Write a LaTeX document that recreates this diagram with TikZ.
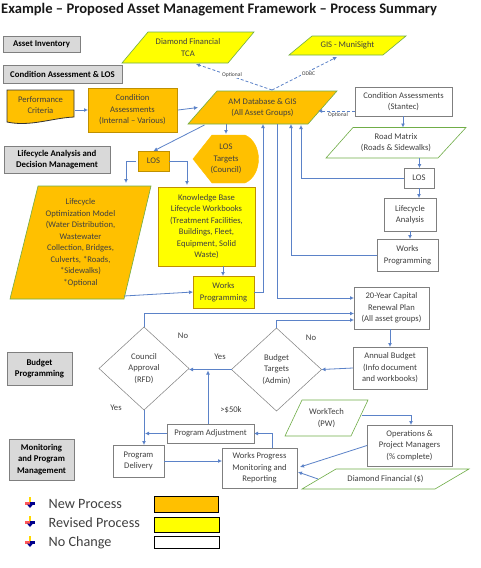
\documentclass[tikz,border=0pt]{standalone}
\usepackage{fontspec}
\setmainfont{Carlito}
\usetikzlibrary{arrows.meta,calc}
\definecolor{orng}{HTML}{FFC000}
\definecolor{yelo}{HTML}{FFFF00}
\definecolor{gold}{HTML}{BF9000}
\definecolor{grn}{HTML}{70AD47}
\definecolor{lnk}{HTML}{5B82C8}
\definecolor{edge}{HTML}{7F7F7F}
\definecolor{txt}{HTML}{404040}
\tikzset{
  lbl/.style={inner sep=0pt,outer sep=0pt,align=center,font=\fontsize{8.6}{11.5}\selectfont,text=txt},
  newbox/.style={lbl,draw=gold,fill=orng,line width=.7pt},
  revbox/.style={lbl,draw=gold,fill=yelo,line width=.7pt},
  plainbox/.style={lbl,draw=edge,fill=white,line width=.7pt},
  headbox/.style={lbl,draw=edge,fill=black!15,line width=.9pt,text=black,font=\bfseries\fontsize{8.8}{11.5}\selectfont},
  newpar/.style={draw=grn,fill=orng,line width=.6pt},
  revpar/.style={draw=grn,fill=yelo,line width=.6pt},
  plainpar/.style={draw=grn,fill=white,line width=.6pt},
  diam/.style={draw=edge,fill=white,line width=.5pt},
  conn/.style={draw=lnk,line width=.8pt,-{Latex[length=4pt,width=4pt]}},
  plainconn/.style={draw=lnk,line width=.8pt},
  dashconn/.style={conn,dashed,dash pattern=on 3pt off 2pt},
  tiny/.style={inner sep=1pt,font=\fontsize{5.6}{6}\selectfont,text=txt,fill=white},
  note/.style={inner sep=0pt,font=\fontsize{8.6}{10}\selectfont,text=txt},
  swatch/.style={draw=black,line width=.8pt},
  legend/.style={inner sep=0pt,anchor=west,font=\fontsize{14.2}{16}\selectfont,text=txt},
}
% name, x1, y1, x2, y2, style, text
\newcommand{\bx}[7]{\node[#6,minimum width={(#4-#2)*1pt},minimum height={(#5-#3)*1pt}] (#1) at ({(#2+#4)/2},{(#3+#5)/2}) {#7};}
% name, top-left x, top-right x, top y, bottom-right x, bottom-left x, bottom y, style, text
\newcommand{\para}[9]{\draw[#8] (#2,#4) -- (#3,#4) -- (#5,#7) -- (#6,#7) -- cycle;
  \node[lbl,minimum width={(#3-#6)*1pt},minimum height={(#7-#4)*1pt}] (#1) at ({(#6+#3)/2},{(#4+#7)/2}) {#9};}
% name, cx, cy, half-w, half-h, text
\newcommand{\dmd}[6]{\draw[diam] (#2,{#3-#5}) -- ({#2+#4},#3) -- (#2,{#3+#5}) -- ({#2-#4},#3) -- cycle;
  \node[lbl,minimum width={2*#4*1pt},minimum height={2*#5*1pt}] (#1) at (#2,#3) {#6};}
\newcommand{\bullt}[1]{\begin{scope}[shift={(30,#1)}]
  \fill[red!65!white] (-5,-1) rectangle (0,1.5);
  \fill[yelo!70!orange] (-1.2,-6) rectangle (1.2,-1);
  \fill[blue!55!black] (0,-1) rectangle (5,1.5);
  \fill[blue!55!black] (-3,1.5) -- (3,1.5) -- (0,5) -- cycle;
\end{scope}}
\begin{document}
\begin{tikzpicture}[x=1pt,y=-1pt]
\useasboundingbox (0,0) rectangle (481,568);
\fill[white] (0,0) rectangle (481,568);
\node[inner sep=0pt,anchor=west,font=\bfseries\fontsize{14.6}{16}\selectfont,text=black!90] (title) at (1,9.5) {Example – Proposed Asset Management Framework – Process Summary};

% headings
\bx{h1}{3}{36}{80}{52}{headbox}{Asset Inventory}
\bx{h2}{3}{65}{122}{83}{headbox}{Condition Assessment \& LOS}
\bx{h3}{4}{146}{110}{173}{headbox}{Lifecycle Analysis and\\Decision Management}
\bx{h4}{7}{352}{72}{385}{headbox}{Budget\\Programming}
\bx{h5}{9}{439}{74}{480}{headbox}{Monitoring\\and Program\\Management}

% top
\para{tca}{148}{254}{32}{228}{122}{63}{revpar}{Diamond Financial\\TCA}
\para{gis}{312}{406}{36}{383}{289}{55}{revpar}{GIS - MuniSight}

% performance criteria (document shape)
\draw[fill=orng,draw=black!80,line width=.8pt] (7,90) -- (74,90) -- (74,117) .. controls (52,118) and (30,127) .. (7,122) -- cycle;
\node[lbl,minimum width=67pt,minimum height=30pt] (perf) at (40.5,105) {Performance\\Criteria};
\bx{cond}{88}{88}{177}{132}{newbox}{Condition\\Assessments\\(Internal – Various)}
\para{am}{217}{337}{91}{308}{188}{124}{newpar}{AM Database \& GIS\\(All Asset Groups)}
\bx{los}{138}{151}{169}{171}{newbox}{LOS}
\draw[fill=orng,draw=orng] (193,159) -- (212,135) -- (245,135) .. controls (263,143) and (263,175) .. (245,183) -- (212,183) -- cycle;
\node[lbl,minimum width=66pt,minimum height=48pt] (tgt) at (226,159) {LOS\\Targets\\(Council)};
\para{lom}{38}{151}{186}{124}{10}{299}{newpar}{Lifecycle\\Optimization Model\\(Water Distribution,\\Wastewater\\Collection, Bridges,\\Culverts, *Roads,\\*Sidewalks)\\*Optional}
\bx{kb}{158}{187}{255}{266}{revbox}{Knowledge Base\\Lifecycle Workbooks\\(Treatment Facilities,\\Buildings, Fleet,\\Equipment, Solid\\Waste)}
\bx{wpy}{193}{276}{254}{308}{revbox}{Works\\Programming}

% right column
\bx{stn}{355}{87}{452}{116}{plainbox}{Condition Assessments\\(Stantec)}
\para{road}{353}{466}{127.5}{438}{326}{158}{plainpar}{Road Matrix\\(Roads \& Sidewalks)}
\bx{losr}{404}{168}{434}{188}{plainbox}{LOS}
\bx{la}{384}{198}{436}{231}{plainbox}{Lifecycle\\Analysis}
\bx{wpr}{377}{239}{438}{271}{plainbox}{Works\\Programming}
\bx{plan}{354}{287}{429}{329}{plainbox}{20-Year Capital\\Renewal Plan\\(All asset groups)}
\bx{ab}{353}{347}{427}{389}{plainbox}{Annual Budget\\(Info document\\and workbooks)}

% decisions
\dmd{bt}{276.5}{369.5}{45}{41.5}{Budget\\Targets\\(Admin)}
\dmd{ca}{144}{368.5}{45}{41.5}{Council\\Approval\\(RFD)}

% lower
\bx{pa}{167}{424}{254}{443}{plainbox}{Program Adjustment}
\bx{pd}{113}{445}{164}{477}{plainbox}{Program\\Delivery}
\bx{wm}{222}{448}{297}{488}{plainbox}{Works Progress\\Monitoring and\\Reporting}
\para{wt}{302}{368}{400}{351}{285}{436}{plainpar}{WorkTech\\(PW)}
\bx{ops}{367}{425}{452}{466}{plainbox}{Operations \&\\Project Managers\\(\% complete)}
\para{df}{336}{469}{469}{435}{302}{489}{plainpar}{Diamond Financial (\$)}

% connectors
\draw[conn] (perf.east |- cond.west) ++(1,0) -- (cond.west);
\draw[conn] (cond.east) ++(1,0) -- ($(am.west)+(10,0)$);
\draw[conn] ($(am.south)+(-58,1)$) -- (los.north);
\draw[conn] ($(am.south)+(-36.5,0)$) -- ($(tgt.north)+(0,-1)$);
\draw[conn] (los.west) ++(-2,0) -- ++(-10,0) -- ($(lom.north)+(45.5,-3)$);
\draw[conn] (los.east) -- ++(18,0) -- ($(kb.north)+(-19.5,-2)$);
\draw[conn] (kb.south) ++(16.5,0) -- ++(0,10);
\draw[conn] ($(lom.south)+(43.5,-3)$) -- (wpy.west);
\draw[conn] (wpy.east) -- ++(9,0) -- ($(am.south)+(0.5,0)$);
\draw[plainconn] ($(am.south)+(14.5,0)$) -- ++(0,174);
\draw[conn] ($(am.south)+(14.5,174)$) -- ($(plan.west)+(0,-10)$);
\draw[conn] (wpr.west) -- ++(-86,0) -- ($(am.south)+(28.5,0)$);
\draw[conn] (losr.west) -- ++(-103,0) -- ($(am.south)+(38.5,1)$);
\draw[dashconn] ($(stn.west)+(0,9.5)$) -- ($(am.east)+(-19,3.5)$);
\draw[conn] (stn.south) ++(-0.5,0) -- ++(0,11.5);
\draw[conn] (road.south) ++(23.5,0) -- ++(0,10);
\draw[conn] (losr.south) -- ++(0,10);
\draw[conn] (la.south) -- ++(0,8);
\draw[conn] (plan.south) ++(-1.5,0) -- ++(0,18);
\draw[conn] (ab.west) -- (bt.east);
\draw[conn] (bt.west) -- (ca.east |- bt.west);
\draw[conn] (bt.north) -- ++(0,-8) -- ($(plan.west)+(0,12)$);
\draw[conn] (ca.north) -- ++(0,-13.5) -- ($(plan.west)+(0,5.5)$);
\draw[conn] (ca.south) -- ($(ca.south)+(0,35)$);
\draw[conn] (pa.west) -- ++(-22,0);
\draw[conn] ($(pa.north)+(-2.5,0)$) -- ++(0,-53.5);
\draw[conn] (pd.east) -- (wm.west |- pd.east);
\draw[conn] ($(wm.north)+(12.5,0)$) -- ++(0,-14.5) -- (pa.east);
\draw[conn] ($(wt.east)+(-6,-3)$) -- ++(49,0) -- ($(ops.north)+(1.5,0)$);
\draw[conn] (ops.west) -- ($(wm.east)+(3,-1)$);
\draw[conn] ($(df.west)+(16,0)$) -- ($(wm.east)+(1,4)$);

% dashed links to the top with labels
\coordinate (apex) at ($(am.north)+(9.5,-1)$);
\draw[dashconn] (apex) -- ($(tca.south)+(8,1)$);
\draw[dashconn] (apex) -- ($(gis.south)+(-10.5,2)$);
\node[tiny] (optA) at (232,75) {Optional};
\node[tiny] (odbc) at (308.5,73.5) {ODBC};
\node[tiny,fill=none] (optB) at (338,115.5) {Optional};

% labels
\node[note] (noA) at (183,336) {No};
\node[note] (noB) at (311,338) {No};
\node[note] (yesA) at (220,356.5) {Yes};
\node[note] (yesB) at (116,408) {Yes};
\node[note] (gt) at (231,409.5) {>\$50k};

% legend
\bullt{503}\bullt{522}\bullt{542}
\node[legend] (l1) at (48.5,503.5) {New Process};
\node[legend] (l2) at (48.5,522.5) {Revised Process};
\node[legend] (l3) at (48.5,542.5) {No Change};
\bx{s1}{154.5}{496.5}{218.5}{512}{swatch,fill=orng}{}
\bx{s2}{154.5}{517.5}{219.5}{532}{swatch,fill=yelo}{}
\bx{s3}{154.5}{536.5}{219.5}{548}{swatch,fill=white}{}
\end{tikzpicture}
\end{document}
